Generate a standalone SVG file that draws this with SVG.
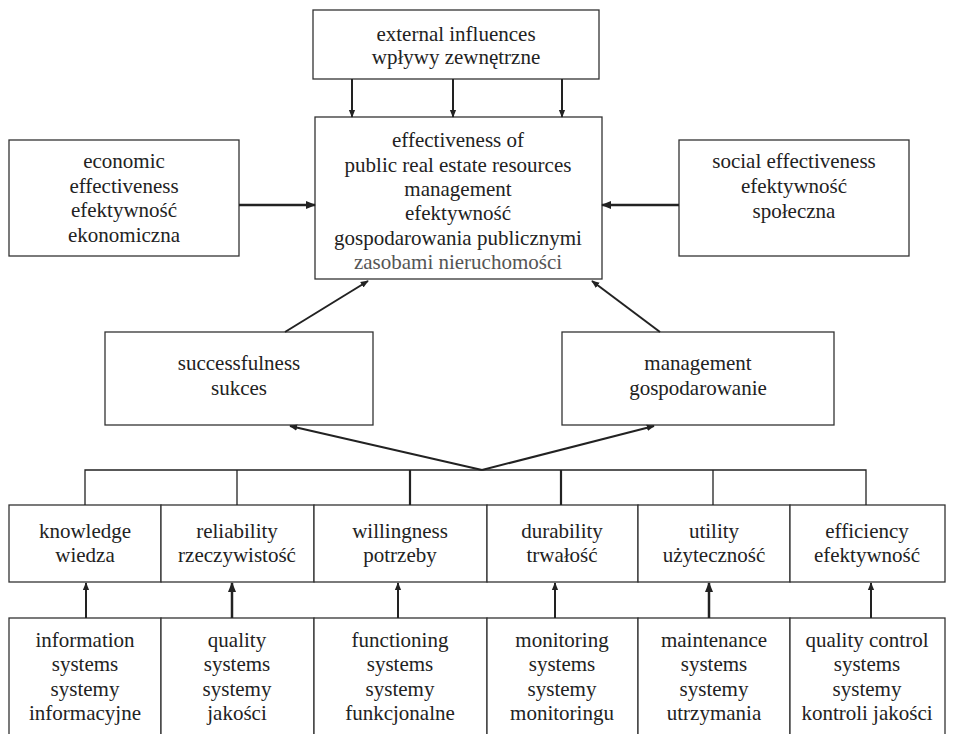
<svg xmlns="http://www.w3.org/2000/svg" width="954" height="734" viewBox="0 0 954 734">
<defs>
<marker id="ah" viewBox="0 0 10 10" refX="9" refY="5" markerWidth="4" markerHeight="4" orient="auto" markerUnits="strokeWidth">
<path d="M0,1 L10,5 L0,9 Z" fill="#222"/>
</marker>
</defs>
<rect width="954" height="734" fill="#fff"/>
<g font-family="'Liberation Serif'" font-size="21" fill="#222" text-anchor="middle">
<g id="external">
<rect x="313" y="10" width="286" height="69" fill="#fff" stroke="#333" stroke-width="1.3"/>
<text font-family="'Liberation Serif'" x="456" y="41">external influences</text>
<text font-family="'Liberation Serif'" x="456" y="64">wp&#322;ywy zewn&#281;trzne</text>
</g>

<g id="central">
<rect x="315" y="117" width="287" height="162" fill="#fff" stroke="#333" stroke-width="1.3"/>
<text font-family="'Liberation Serif'" x="458" y="147">effectiveness of</text>
<text font-family="'Liberation Serif'" x="458" y="172">public real estate resources</text>
<text font-family="'Liberation Serif'" x="458" y="196">management</text>
<text font-family="'Liberation Serif'" x="458" y="220">efektywno&#347;&#263;</text>
<text font-family="'Liberation Serif'" x="458" y="245">gospodarowania publicznymi</text>
<text font-family="'Liberation Serif'" x="458" y="269" fill="#555">zasobami nieruchomo&#347;ci</text>
</g>

<g id="economic">
<rect x="9" y="140" width="230" height="116" fill="#fff" stroke="#333" stroke-width="1.3"/>
<text font-family="'Liberation Serif'" x="124" y="168">economic</text>
<text font-family="'Liberation Serif'" x="124" y="193">effectiveness</text>
<text font-family="'Liberation Serif'" x="124" y="217">efektywno&#347;&#263;</text>
<text font-family="'Liberation Serif'" x="124" y="242">ekonomiczna</text>
</g>

<g id="social">
<rect x="679" y="140" width="230" height="116" fill="#fff" stroke="#333" stroke-width="1.3"/>
<text font-family="'Liberation Serif'" x="794" y="168">social effectiveness</text>
<text font-family="'Liberation Serif'" x="794" y="193">efektywno&#347;&#263;</text>
<text font-family="'Liberation Serif'" x="794" y="218">spo&#322;eczna</text>
</g>

<g id="successfulness">
<rect x="105" y="332" width="268" height="93" fill="#fff" stroke="#333" stroke-width="1.3"/>
<text font-family="'Liberation Serif'" x="239" y="370">successfulness</text>
<text font-family="'Liberation Serif'" x="239" y="395">sukces</text>
</g>

<g id="management">
<rect x="562" y="332" width="272" height="93" fill="#fff" stroke="#333" stroke-width="1.3"/>
<text font-family="'Liberation Serif'" x="698" y="370">management</text>
<text font-family="'Liberation Serif'" x="698" y="395">gospodarowanie</text>
</g>

<g id="knowledge">
<rect x="9" y="505" width="152" height="77" fill="#fff" stroke="#333" stroke-width="1.3"/>
<text font-family="'Liberation Serif'" x="85" y="538">knowledge</text>
<text font-family="'Liberation Serif'" x="85" y="562">wiedza</text>
</g>
<g id="reliability">
<rect x="161" y="505" width="153" height="77" fill="#fff" stroke="#333" stroke-width="1.3"/>
<text font-family="'Liberation Serif'" x="237" y="538">reliability</text>
<text font-family="'Liberation Serif'" x="237" y="562">rzeczywisto&#347;&#263;</text>
</g>
<g id="willingness">
<rect x="314" y="505" width="173" height="77" fill="#fff" stroke="#333" stroke-width="1.3"/>
<text font-family="'Liberation Serif'" x="400" y="538">willingness</text>
<text font-family="'Liberation Serif'" x="400" y="562">potrzeby</text>
</g>
<g id="durability">
<rect x="487" y="505" width="151" height="77" fill="#fff" stroke="#333" stroke-width="1.3"/>
<text font-family="'Liberation Serif'" x="562" y="538">durability</text>
<text font-family="'Liberation Serif'" x="562" y="562">trwa&#322;o&#347;&#263;</text>
</g>
<g id="utility">
<rect x="638" y="505" width="152" height="77" fill="#fff" stroke="#333" stroke-width="1.3"/>
<text font-family="'Liberation Serif'" x="714" y="538">utility</text>
<text font-family="'Liberation Serif'" x="714" y="562">u&#380;yteczno&#347;&#263;</text>
</g>
<g id="efficiency">
<rect x="790" y="505" width="155" height="77" fill="#fff" stroke="#333" stroke-width="1.3"/>
<text font-family="'Liberation Serif'" x="867" y="538">efficiency</text>
<text font-family="'Liberation Serif'" x="867" y="562">efektywno&#347;&#263;</text>
</g>

<g id="information">
<rect x="9" y="618" width="152" height="130" fill="#fff" stroke="#333" stroke-width="1.3"/>
<text font-family="'Liberation Serif'" x="85" y="647">information</text>
<text font-family="'Liberation Serif'" x="85" y="671">systems</text>
<text font-family="'Liberation Serif'" x="85" y="696">systemy</text>
<text font-family="'Liberation Serif'" x="85" y="720">informacyjne</text>
</g>
<g id="quality">
<rect x="161" y="618" width="153" height="130" fill="#fff" stroke="#333" stroke-width="1.3"/>
<text font-family="'Liberation Serif'" x="237" y="647">quality</text>
<text font-family="'Liberation Serif'" x="237" y="671">systems</text>
<text font-family="'Liberation Serif'" x="237" y="696">systemy</text>
<text font-family="'Liberation Serif'" x="237" y="720">jako&#347;ci</text>
</g>
<g id="functioning">
<rect x="314" y="618" width="173" height="130" fill="#fff" stroke="#333" stroke-width="1.3"/>
<text font-family="'Liberation Serif'" x="400" y="647">functioning</text>
<text font-family="'Liberation Serif'" x="400" y="671">systems</text>
<text font-family="'Liberation Serif'" x="400" y="696">systemy</text>
<text font-family="'Liberation Serif'" x="400" y="720">funkcjonalne</text>
</g>
<g id="monitoring">
<rect x="487" y="618" width="151" height="130" fill="#fff" stroke="#333" stroke-width="1.3"/>
<text font-family="'Liberation Serif'" x="562" y="647">monitoring</text>
<text font-family="'Liberation Serif'" x="562" y="671">systems</text>
<text font-family="'Liberation Serif'" x="562" y="696">systemy</text>
<text font-family="'Liberation Serif'" x="562" y="720">monitoringu</text>
</g>
<g id="maintenance">
<rect x="638" y="618" width="152" height="130" fill="#fff" stroke="#333" stroke-width="1.3"/>
<text font-family="'Liberation Serif'" x="714" y="647">maintenance</text>
<text font-family="'Liberation Serif'" x="714" y="671">systems</text>
<text font-family="'Liberation Serif'" x="714" y="696">systemy</text>
<text font-family="'Liberation Serif'" x="714" y="720">utrzymania</text>
</g>
<g id="qualitycontrol">
<rect x="790" y="618" width="155" height="130" fill="#fff" stroke="#333" stroke-width="1.3"/>
<text font-family="'Liberation Serif'" x="867" y="647">quality control</text>
<text font-family="'Liberation Serif'" x="867" y="671">systems</text>
<text font-family="'Liberation Serif'" x="867" y="696">systemy</text>
<text font-family="'Liberation Serif'" x="867" y="720">kontroli jako&#347;ci</text>
</g>
</g>
<g id="connectors" stroke="#222" fill="none">
<g stroke-width="2" marker-end="url(#ah)">
<line x1="352" y1="79" x2="352" y2="117"/>
<line x1="453" y1="79" x2="453" y2="117"/>
<line x1="562" y1="79" x2="562" y2="117"/>
<line x1="285" y1="332" x2="368" y2="281"/>
<line x1="660" y1="332" x2="592" y2="281"/>
<line x1="482" y1="470" x2="290" y2="426"/>
<line x1="482" y1="470" x2="654" y2="426"/>
<line x1="86" y1="618" x2="86" y2="583"/>
<line x1="398" y1="618" x2="398" y2="583"/>
<line x1="555" y1="618" x2="555" y2="583"/>
<line x1="871" y1="618" x2="871" y2="583"/>
</g>
<g stroke-width="2.5" marker-end="url(#ah)">
<line x1="239" y1="205" x2="315" y2="205"/>
<line x1="679" y1="205" x2="602" y2="205"/>
<line x1="232" y1="618" x2="232" y2="583"/>
<line x1="709" y1="618" x2="709" y2="583"/>
</g>
<path stroke-width="1.3" d="M85,505 V470 H866 V505 M237,470 V505 M713,470 V505"/>
<path stroke-width="2.2" d="M410,470 V505 M561,470 V505"/>
</g>
</svg>
